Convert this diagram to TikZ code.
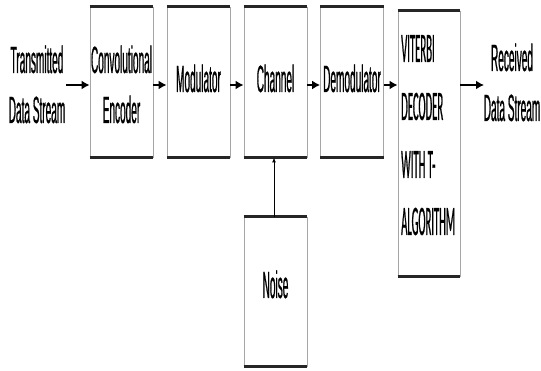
\documentclass[tikz,border=0pt]{standalone}
\usepackage{fontspec}
\usetikzlibrary{arrows.meta}
\newfontfamily\condfont[FakeStretch=0.265,FakeBold=0.5]{Liberation Sans}
\newfontfamily\vitfont[FakeStretch=0.255,FakeBold=0.5]{Carlito}
\tikzset{
  blk/.style={draw=gray!70, line width=0.8pt, minimum width=63pt, inner sep=0pt, fill=white},
  edge/.style={line width=3pt, black!85},
  lbl/.style={font=\condfont\fontsize{38}{50}\selectfont, align=center, inner sep=0pt, text=black, anchor=base},
  vlbl/.style={font=\vitfont\fontsize{42}{58}\selectfont, inner sep=0pt, text=black, anchor=base west},
  flow/.style={line width=2.4pt, -{Latex[length=8pt,width=9pt]}},
  thin/.style={line width=1pt, -{Latex[length=5pt,width=4pt]}}
}
\begin{document}
\begin{tikzpicture}[x=1pt,y=-1pt]
\useasboundingbox (0,0) rectangle (541,371);
% boxes
\node[blk, minimum height=150pt] (enc) at (121.5,82) {};
\node[blk, minimum height=150pt] (mod) at (198.5,82) {};
\node[blk, minimum height=150pt] (chan) at (275.5,82) {};
\node[blk, minimum height=150pt] (demod) at (352,82) {};
\node[blk, minimum height=265pt, minimum width=62pt] (vit) at (429,143.5) {};
\node[blk, minimum height=149pt] (noise) at (275.5,291.5) {};
\foreach \b in {enc,mod,chan,demod,vit,noise}{
  \draw[edge] (\b.north west) -- (\b.north east);
  \draw[edge] (\b.south west) -- (\b.south east);
}
% labels
\node[lbl] (tx1) at (37,73) {Transmitted};
\node[lbl] (tx2) at (37,123) {Data Stream};
\node[lbl] (enc1) at (121.5,73) {Convolutional};
\node[lbl] (enc2) at (121.5,123) {Encoder};
\node[lbl] (modl) at (198.5,92) {Modulator};
\node[lbl] (chanl) at (275.5,92) {Channel};
\node[lbl] (demodl) at (352,92) {Demodulator};
\node[lbl] (noisel) at (275.5,298) {Noise};
\node[vlbl] (v1) at (401,62) {VITERBI};
\node[vlbl] (v2) at (401,120) {DECODER};
\node[vlbl] (v3) at (401,178) {WITH T-};
\node[vlbl] (v4) at (401,235) {ALGORITHM};
\node[lbl] (rx1) at (512,71) {Received};
\node[lbl] (rx2) at (512,121) {Data Stream};
% connectors
\coordinate (txe) at (66,85);
\coordinate (rxw) at (484,85);
\draw[flow] (txe) -- (enc.west |- txe);
\draw[flow] (enc.east |- txe) -- (mod.west |- txe);
\draw[flow] (mod.east |- txe) -- (chan.west |- txe);
\draw[flow] (chan.east |- txe) -- (demod.west |- txe);
\draw[flow] (demod.east |- txe) -- (vit.west |- txe);
\draw[flow] (vit.east |- txe) -- (rxw);
\draw[thin] ([xshift=-1.5pt]noise.north) -- ([xshift=-1.5pt]chan.south);
\end{tikzpicture}
\end{document}
